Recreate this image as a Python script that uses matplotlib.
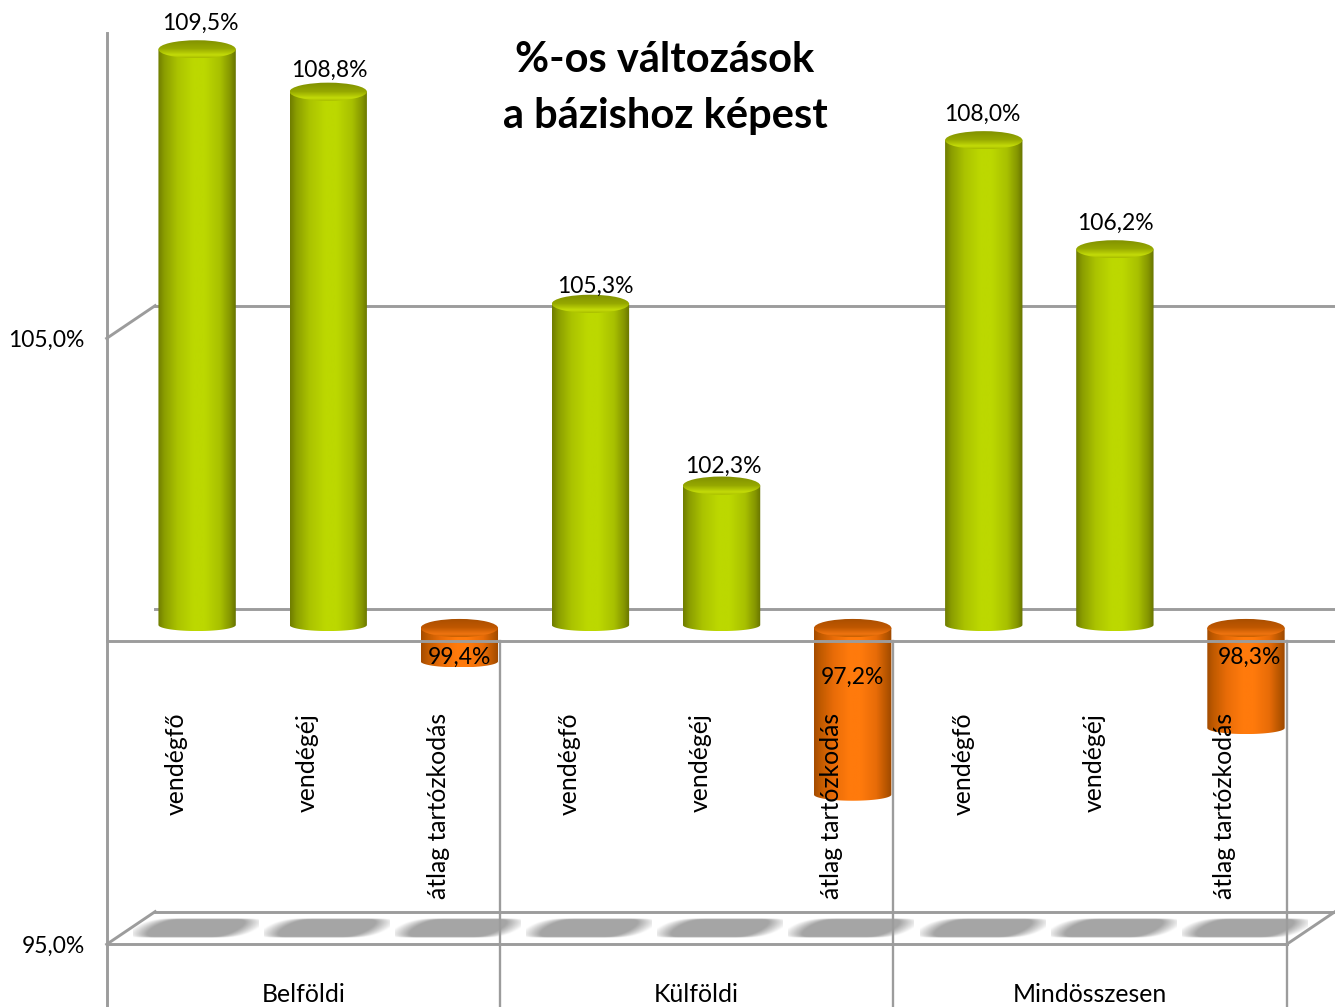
import numpy as np
import matplotlib
matplotlib.use('Agg')
from matplotlib import pyplot as plt
from matplotlib.colors import LinearSegmentedColormap
from matplotlib.patches import Ellipse, PathPatch
from matplotlib.path import Path

plt.rcParams['font.family'] = ['Lato', 'DejaVu Sans']

## Data
groups = ['Belföldi', 'Külföldi', 'Mindösszesen']
categories = ['vendégfő', 'vendégéj', 'átlag tartózkodás'] * 3
values = [109.5, 108.8, 99.4, 105.3, 102.3, 97.2, 108.0, 106.2, 98.3]
value_labels = ['109,5%', '108,8%', '99,4%', '105,3%', '102,3%', '97,2%', '108,0%', '106,2%', '98,3%']
ticks = [105, 95]
tick_labels = ['105,0%', '95,0%']
base = 100

## Layout
label_dx = [3, 1, 0, 5, 2, 0, -1, 1, 3]
label_dy = [26, 21, 4, 17, 19, 117, 26, 26, 71]
half_w = 0.295
cap_h = 0.15
bottom_h = 0.1
neg_drop = 0.05
front = -0.69
depth_x = 0.37
wall_front = -0.27
wall_back = 0.27
seps = [front, 2.31, 5.31, 8.31]

fig = plt.figure(figsize=(13.35, 10.07), dpi=100)
ax = fig.add_axes([0, 0, 1, 1])
ax.axis('off')
x0, x1 = -1.5035, 8.679
y0, y1 = 93.696, 110.314
gray = '#9c9c9c'
lw = 2.1

green_side = LinearSegmentedColormap.from_list('gs', [(0, '#6f7d00'), (0.08, '#8b9e00'), (0.25, '#abc300'), (0.45, '#bcd800'),
                                                      (0.6, '#bcd800'), (0.8, '#a8c000'), (0.93, '#859600'), (1, '#677400')])
green_cap = LinearSegmentedColormap.from_list('gc', [(0, '#7f8f00'), (0.5, '#96a800'), (0.85, '#c4dc08'), (1, '#a8bc00')])
orange_side = LinearSegmentedColormap.from_list('os', [(0, '#a44c00'), (0.08, '#c05a00'), (0.25, '#e86c08'), (0.45, '#ff7a0c'),
                                                       (0.6, '#ff7a0c'), (0.8, '#e86c08'), (0.93, '#b85600'), (1, '#9c4800')])
orange_cap = LinearSegmentedColormap.from_list('oc', [(0, '#a84e00'), (0.5, '#c05800'), (0.85, '#f07410'), (1, '#c86000')])

def cylinder(x, v):
    top, bottom = max(v, base), min(v, base)
    side, cap = (green_side, green_cap) if v >= base else (orange_side, orange_cap)
    if v < base:
        top = top - neg_drop
    t = np.linspace(np.pi, 2 * np.pi, 40)
    xs = np.r_[x - half_w, x + half_w * np.cos(t), x + half_w, x - half_w]
    ys = np.r_[top, bottom + bottom_h * np.sin(t), top, top]
    patch = PathPatch(Path(np.c_[xs, ys]), fc='none', ec='none', zorder=3)
    ax.add_patch(patch)
    im = ax.imshow(np.linspace(0, 1, 128)[None, :], cmap=side, aspect='auto', zorder=3,
                   extent=(x - half_w, x + half_w, bottom - bottom_h, top), interpolation='bilinear')
    im.set_clip_path(patch)
    el = Ellipse((x, top), 2 * half_w, 2 * cap_h, fc='none', ec='none', zorder=4)
    ax.add_patch(el)
    im2 = ax.imshow(np.linspace(0, 1, 64)[:, None], cmap=cap, aspect='auto', zorder=4, origin='upper',
                    extent=(x - half_w, x + half_w, top - cap_h, top + cap_h), interpolation='bilinear')
    im2.set_clip_path(el)

def floor_shadow(x):
    # blurred skewed patch lying on the floor
    u, w = np.meshgrid(np.linspace(-1, 1, 200), np.linspace(-1, 1, 40))
    skew = u - 0.22 * w
    edge = np.sqrt(1 - np.clip(w, -1, 1) ** 2)
    a = np.clip((edge ** 0.25 - np.abs(skew)) / 0.3, 0, 1) * np.clip((1 - np.abs(w)) / 0.08, 0, 1)
    rgba = np.zeros(a.shape + (4,))
    rgba[..., :3] = 0.65
    rgba[..., 3] = a
    ax.imshow(rgba, aspect='auto', zorder=1.5, extent=(x - 0.49, x + 0.47, 94.835, 95.15),
              origin='lower', interpolation='bilinear')

## Walls behind the bars
for tick in [105, 100, 95]:
    ax.plot([front + depth_x, x1], [tick + wall_back] * 2, color=gray, lw=lw, zorder=1)
for tick in ticks:
    ax.plot([front, front + depth_x], [tick + wall_front, tick + wall_back], color=gray, lw=lw, zorder=1)
ax.plot([seps[-1], seps[-1] + depth_x], [95 + wall_front, 95 + wall_back], color=gray, lw=lw, zorder=1)

xpos = np.arange(len(values))
for x in xpos:
    floor_shadow(x)

for x, v in zip(xpos, values):
    cylinder(x, v)

## Front lines
ax.plot([front, x1], [base + wall_front] * 2, color=gray, lw=lw, zorder=5)
ax.plot([front, seps[-1]], [95 + wall_front] * 2, color=gray, lw=lw, zorder=2)
ax.plot([front, front], [109.77, y0], color=gray, lw=lw, zorder=2)
for s in seps[1:]:
    ax.plot([s, s], [base + wall_front, y0], color=gray, lw=lw * 0.8, zorder=2)

## Texts
for x, v, lab, dx, dy in zip(xpos, values, value_labels, label_dx, label_dy):
    ax.annotate(lab, (x, v), xytext=(dx, dy), textcoords='offset pixels', ha='center', va='center',
                fontsize=16.5, color='black', zorder=7)
for x, lab in zip(xpos, categories):
    ax.annotate(lab, (x, base), xytext=(-21, -88), textcoords='offset pixels', rotation=90,
                ha='center', va='top', fontsize=17.8, color='black', zorder=7)
for i, g in enumerate(groups):
    ax.text((seps[i] + seps[i + 1]) / 2, y0 + 0.2, g, ha='center', va='center', fontsize=17.8, color='black')
for tick, lab in zip(ticks, tick_labels):
    ax.annotate(lab, (front, tick + wall_front), xytext=(-22, -2), textcoords='offset pixels',
                ha='right', va='center', fontsize=16.5, color='black')

fig.text(665 / 1335, 1 - 88 / 1007, '%-os változások\na bázishoz képest', ha='center', va='center',
         fontsize=30, fontweight='bold', linespacing=1.55, color='black')

ax.set_xlim(x0, x1)
ax.set_ylim(y0, y1)
fig.savefig('out.png', dpi=100)
